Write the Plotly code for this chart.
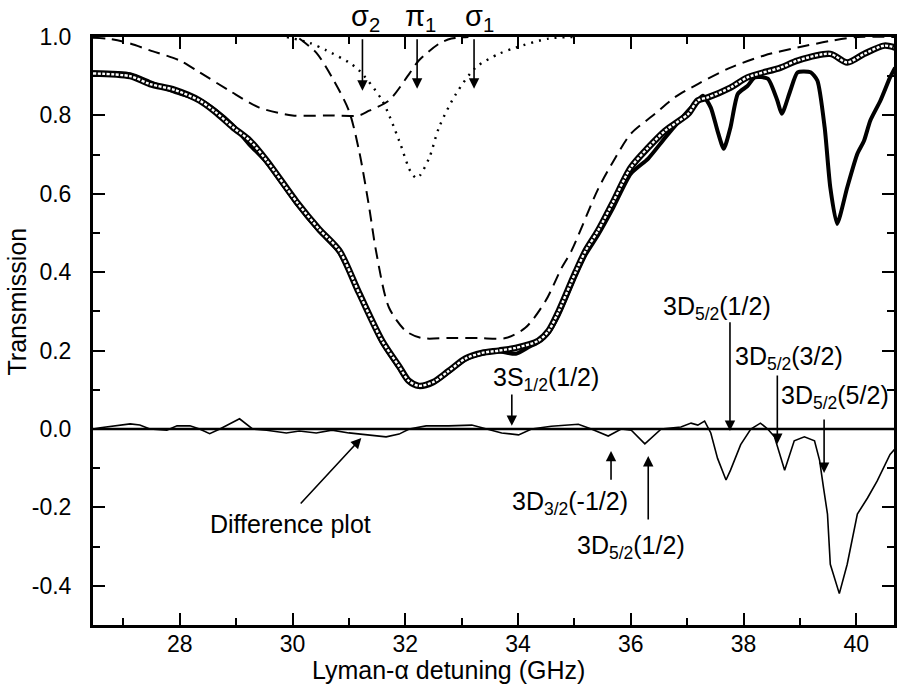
import plotly.graph_objects as go

# ---------------- data ----------------
# measured transmission (solid thick line)
meas_x = [26.46, 27.12, 27.47, 27.91, 28.35, 28.62, 28.94, 29.24, 29.54, 30.07, 30.47, 30.83,
          31.18, 31.59, 31.89, 32.06, 32.24, 32.5, 32.77, 33.07, 33.36, 33.66, 33.96, 34.2,
          34.36, 34.54, 34.72, 35.02, 35.2, 35.42, 35.69, 36.0, 36.31, 36.61, 37.02, 37.19,
          37.28, 37.42, 37.54, 37.65, 37.77, 37.9, 38.07, 38.2, 38.43, 38.6, 38.68, 38.83,
          38.96, 39.19, 39.31, 39.44, 39.54, 39.66, 39.84, 40.02, 40.14, 40.25, 40.43, 40.6, 40.69]
meas_y = [0.91, 0.905, 0.885, 0.86, 0.84, 0.815, 0.775, 0.725, 0.68, 0.575, 0.505, 0.45,
          0.345, 0.22, 0.155, 0.12, 0.108, 0.118, 0.145, 0.178, 0.192, 0.198, 0.192, 0.21,
          0.222, 0.245, 0.29, 0.39, 0.445, 0.495, 0.565, 0.651, 0.69, 0.743, 0.812, 0.838,
          0.85, 0.82, 0.76, 0.715, 0.77, 0.855, 0.875, 0.897, 0.894, 0.838, 0.804, 0.863,
          0.91, 0.91, 0.889, 0.769, 0.616, 0.523, 0.616, 0.702, 0.736, 0.787, 0.838, 0.897, 0.922]

# fit (open circles)
fit_x = [26.46, 27.12, 27.47, 27.91, 28.35, 28.62, 28.94, 29.24, 29.54, 30.07, 30.47, 30.83,
         31.18, 31.59, 31.89, 32.06, 32.24, 32.5, 32.77, 33.07, 33.36, 33.66, 33.96, 34.36,
         34.54, 34.72, 35.02, 35.2, 35.42, 35.69, 36.0, 36.31, 36.61, 37.02, 37.19, 37.37,
         37.77, 38.07, 38.66, 38.96, 39.54, 39.84, 40.14, 40.5, 40.69]
fit_y = [0.907, 0.90, 0.88, 0.865, 0.838, 0.81, 0.77, 0.736, 0.685, 0.58, 0.51, 0.455,
         0.347, 0.225, 0.16, 0.123, 0.11, 0.12, 0.148, 0.18, 0.194, 0.20, 0.207, 0.225,
         0.25, 0.30, 0.40, 0.455, 0.506, 0.58, 0.667, 0.718, 0.761, 0.804, 0.838, 0.846,
         0.871, 0.897, 0.922, 0.94, 0.957, 0.935, 0.957, 0.978, 0.973]

# sigma2 component (dashed, shallow)
s2_x = [26.46, 26.76, 27.08, 27.47, 28.0, 28.35, 28.88, 29.41, 30.0, 30.6, 31.18, 31.36,
        31.71, 32.07, 32.24, 32.6, 32.82, 33.12]
s2_y = [0.998, 0.995, 0.985, 0.966, 0.94, 0.91, 0.863, 0.82, 0.80, 0.80, 0.80, 0.812,
        0.838, 0.906, 0.94, 0.983, 0.996, 1.0]

# sigma1 component (dashed, deep)
s1_x = [30.12, 30.42, 30.70, 31.0, 31.18, 31.36, 31.48, 31.71, 32.01, 32.29, 32.77, 33.3,
        33.78, 34.13, 34.49, 34.77, 34.95, 35.42, 35.72, 36.0, 36.43, 36.78, 37.19, 37.77,
        38.37, 38.96, 39.54, 40.02, 40.69]
s1_y = [0.996, 0.96, 0.897, 0.812, 0.71, 0.565, 0.455, 0.31, 0.25, 0.232, 0.232, 0.232,
        0.232, 0.258, 0.327, 0.41, 0.455, 0.612, 0.69, 0.753, 0.804, 0.846, 0.88, 0.922,
        0.953, 0.973, 0.99, 1.0, 1.0]

# pi1 component (dotted)
p1_x = [29.9, 30.3, 30.6, 31.0, 31.18, 31.59, 31.89, 32.1, 32.21, 32.42, 32.6, 32.9,
        33.25, 33.66, 33.96, 34.54, 35.0]
p1_y = [1.0, 0.985, 0.966, 0.935, 0.915, 0.838, 0.736, 0.655, 0.64, 0.69, 0.77, 0.855,
        0.922, 0.957, 0.973, 0.996, 1.0]

# difference plot (thin line)
diff_x = [26.46, 26.59, 27.12, 27.29, 27.47, 27.77, 27.95, 28.18, 28.35, 28.53, 28.71, 29.06,
          29.29, 29.54, 29.89, 30.12, 30.42, 30.70, 31.0, 31.31, 31.66, 31.89, 32.07, 32.37,
          32.77, 33.18, 33.43, 33.71, 34.01, 34.24, 34.59, 35.07, 35.30, 35.42, 35.60, 35.83,
          36.01, 36.25, 36.54, 36.89, 37.07, 37.19, 37.31, 37.42, 37.54, 37.69, 37.77, 37.95,
          38.13, 38.30, 38.43, 38.55, 38.73, 38.90, 39.08, 39.26, 39.35, 39.42, 39.49, 39.54,
          39.70, 39.84, 40.02, 40.20, 40.37, 40.60, 40.69]
diff_y = [0.0, 0.003, 0.013, 0.01, 0.0, -0.003, 0.008, 0.008, 0.0, -0.012, 0.0, 0.026,
          0.0, -0.003, -0.01, -0.005, -0.01, -0.003, -0.01, -0.015, -0.02, -0.013, 0.0, 0.008,
          0.008, 0.01, 0.0, -0.01, -0.015, 0.0, 0.007, 0.012, 0.0, -0.008, -0.018, 0.0,
          -0.003, -0.038, 0.0, 0.005, 0.015, 0.01, 0.02, -0.01, -0.075, -0.13, -0.105, -0.04,
          0.0, 0.015, 0.0, -0.02, -0.105, -0.03, -0.02, -0.03, -0.08, -0.15, -0.217, -0.345,
          -0.42, -0.345, -0.217, -0.176, -0.133, -0.065, -0.05]

x_range = [26.46, 40.67]
y_range = [-0.5, 1.0]
y_tickvals = [-0.4, -0.2, 0.0, 0.2, 0.4, 0.6, 0.8, 1.0]
y_ticktext = ["-0.4", "-0.2", "0.0", "0.2", "0.4", "0.6", "0.8", "1.0"]
x_tickvals = [28, 30, 32, 34, 36, 38, 40]

# component labels above the frame: (text, x)
top_labels = [("σ<sub>2</sub>", 31.30), ("π<sub>1</sub>", 32.27), ("σ<sub>1</sub>", 33.32)]

# transition labels: (text, x, y)
labels = [
    ("3S<sub>1/2</sub>(1/2)", 34.49, 0.128),
    ("Difference plot", 29.96, -0.243),
    ("3D<sub>3/2</sub>(-1/2)", 34.93, -0.189),
    ("3D<sub>5/2</sub>(1/2)", 36.01, -0.300),
    ("3D<sub>5/2</sub>(1/2)", 37.53, 0.309),
    ("3D<sub>5/2</sub>(3/2)", 38.80, 0.181),
    ("3D<sub>5/2</sub>(5/2)", 39.63, 0.082),
]
# arrows: (head_x, head_y, tail_x, tail_y)
arrows = [
    (31.24, 0.863, 31.24, 0.998),
    (32.21, 0.868, 32.21, 0.998),
    (33.22, 0.868, 33.22, 0.998),
    (33.89, 0.008, 33.89, 0.092),
    (31.22, -0.023, 30.12, -0.194),
    (35.65, -0.056, 35.65, -0.133),
    (36.31, -0.069, 36.31, -0.235),
    (37.76, -0.005, 37.76, 0.276),
    (38.60, -0.038, 38.60, 0.140),
    (39.43, -0.112, 39.43, 0.028),
]

# ---------------- figure ----------------
fig = go.Figure()
fig.add_trace(go.Scatter(x=s2_x, y=s2_y, mode="lines",
                         line=dict(color="black", width=2, dash="12px,7px", shape="spline", smoothing=0.8)))
fig.add_trace(go.Scatter(x=s1_x, y=s1_y, mode="lines",
                         line=dict(color="black", width=2, dash="12px,7px", shape="spline", smoothing=0.8)))
fig.add_trace(go.Scatter(x=p1_x, y=p1_y, mode="lines",
                         line=dict(color="black", width=2.4, dash="2px,6px", shape="spline", smoothing=0.8)))
fig.add_trace(go.Scatter(x=meas_x, y=meas_y, mode="lines",
                         line=dict(color="black", width=4, shape="spline", smoothing=0.6)))
fig.add_trace(go.Scatter(x=fit_x, y=fit_y, mode="lines",
                         line=dict(color="black", width=6.5, shape="spline", smoothing=0.8)))
fig.add_trace(go.Scatter(x=fit_x, y=fit_y, mode="lines",
                         line=dict(color="white", width=2.4, dash="3px,1.5px", shape="spline", smoothing=0.8)))
fig.add_trace(go.Scatter(x=diff_x, y=diff_y, mode="lines",
                         line=dict(color="black", width=1.6)))
fig.add_hline(y=0, line=dict(color="black", width=2.5))

font_family = "Liberation Sans, Arial, sans-serif"
for text, x in top_labels:
    fig.add_annotation(x=x, y=1.033, xref="x", yref="paper", text=text, showarrow=False,
                       xanchor="center", yanchor="middle",
                       font=dict(family=font_family, size=29, color="black"))
for text, x, y in labels:
    fig.add_annotation(x=x, y=y, xref="x", yref="y", text=text, showarrow=False,
                       xanchor="center", yanchor="middle",
                       font=dict(family=font_family, size=25, color="black"))
for hx, hy, tx, ty in arrows:
    fig.add_annotation(x=hx, y=hy, ax=tx, ay=ty, xref="x", yref="y", axref="x", ayref="y",
                       text="", showarrow=True, arrowhead=2, arrowsize=1.3, arrowwidth=1.6,
                       arrowcolor="black", standoff=0, startstandoff=0)

# axis titles as annotations (positioned as in reference)
fig.add_annotation(x=0.444, y=-0.077, xref="paper", yref="paper", text="Lyman-α detuning (GHz)",
                   xanchor="center", yanchor="middle",
                   showarrow=False, font=dict(family=font_family, size=25, color="black"))
fig.add_annotation(x=-0.095, y=0.55, xref="paper", yref="paper", text="Transmission",
                   textangle=-90, xanchor="center", yanchor="middle",
                   showarrow=False, font=dict(family=font_family, size=25, color="black"))

axis_common = dict(showline=True, linewidth=3, linecolor="black", mirror="ticks",
                   ticks="inside", tickwidth=2, tickcolor="black", ticklen=12,
                   showgrid=False, zeroline=False,
                   tickfont=dict(family=font_family, size=23, color="black"))
fig.update_xaxes(range=x_range, tickvals=x_tickvals, ticklabelstandoff=-4,
                 minor=dict(ticks="inside", ticklen=7, tickwidth=2, tickcolor="black",
                            dtick=1, tick0=0, showgrid=False), **axis_common)
fig.update_yaxes(range=y_range, tickvals=y_tickvals, ticktext=y_ticktext, ticklabelstandoff=14,
                 minor=dict(ticks="inside", ticklen=7, tickwidth=2, tickcolor="black",
                            dtick=0.1, tick0=0, showgrid=False), **axis_common)

fig.update_layout(width=905, height=692, margin=dict(l=93, r=8, t=37, b=67),
                  plot_bgcolor="white", paper_bgcolor="white", showlegend=False,
                  font=dict(family=font_family, size=22, color="black"))

fig.write_html("out.html")
